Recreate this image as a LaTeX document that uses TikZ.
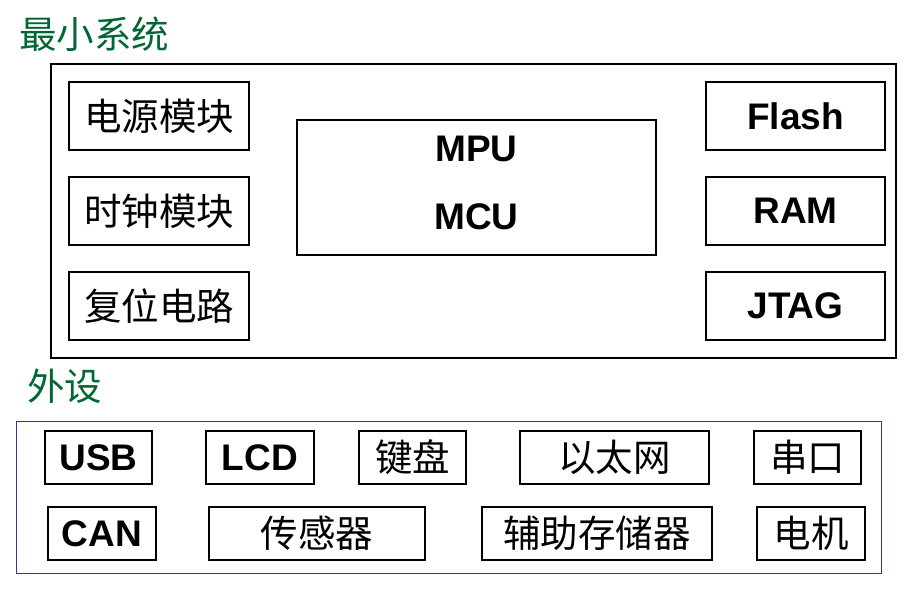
\documentclass[tikz,border=0pt]{standalone}
\usepackage{fontspec}
\setmainfont{Liberation Sans}
\newfontfamily\cjk{Noto Sans CJK SC}
\definecolor{titlegreen}{RGB}{0,102,51}
\definecolor{frameblue}{RGB}{51,51,153}
\begin{document}
\begin{tikzpicture}[x=1pt,y=-1pt,
  box/.style={draw=black,line width=1.1pt,inner sep=0pt},
  latin/.style={font=\fontsize{37}{40}\selectfont\bfseries},
  han/.style={font=\fontsize{37.5}{40}\selectfont\cjk},
  heading/.style={font=\fontsize{37.5}{40}\selectfont\cjk,text=titlegreen,anchor=west,inner sep=0pt}]
\useasboundingbox (0,0) rectangle (904,596);
% titles
\node[heading] (t1) at (19,34) {最小系统};
\node[heading] (t2) at (27,386) {外设};
% minimal system frame
\node[box,minimum width=845pt,minimum height=294pt] (sys) at (473.5,211) {};
\node[box,han,minimum width=180pt,minimum height=68pt] (pwr) at (159,116) {电源模块};
\node[box,han,minimum width=180pt,minimum height=68pt] (clk) at (159,211) {时钟模块};
\node[box,han,minimum width=180pt,minimum height=68pt] (rst) at (159,306) {复位电路};
\node[box,minimum width=359pt,minimum height=135pt] (cpu) at (476.5,187.5) {};
\node[latin] (mpu) at (476.5,149) {MPU};
\node[latin] (mcu) at (476.5,217) {MCU};
\node[box,latin,minimum width=179pt,minimum height=68pt] (flash) at (795.5,116) {Flash};
\node[box,latin,minimum width=179pt,minimum height=68pt] (ram) at (795.5,211) {RAM};
\node[box,latin,minimum width=179pt,minimum height=68pt] (jtag) at (795.5,306) {JTAG};
% peripherals frame
\node[draw=frameblue,line width=1pt,minimum width=865pt,minimum height=152pt,inner sep=0pt] (per) at (448.5,497) {};
\node[box,latin,minimum width=107pt,minimum height=53pt] (usb) at (98.5,457.5) {USB};
\node[box,latin,minimum width=108pt,minimum height=53pt] (lcd) at (260,457.5) {LCD};
\node[box,han,minimum width=107pt,minimum height=53pt] (kbd) at (412.5,457.5) {键盘};
\node[box,han,minimum width=189pt,minimum height=53pt] (eth) at (614.5,457.5) {以太网};
\node[box,han,minimum width=107pt,minimum height=53pt] (uart) at (807.5,457.5) {串口};
\node[box,latin,minimum width=108pt,minimum height=53pt] (can) at (102,533.5) {CAN};
\node[box,han,minimum width=216pt,minimum height=53pt] (sens) at (317,533.5) {传感器};
\node[box,han,minimum width=230pt,minimum height=53pt] (stor) at (597,533.5) {辅助存储器};
\node[box,han,minimum width=108pt,minimum height=53pt] (motor) at (811,533.5) {电机};
\end{tikzpicture}
\end{document}
